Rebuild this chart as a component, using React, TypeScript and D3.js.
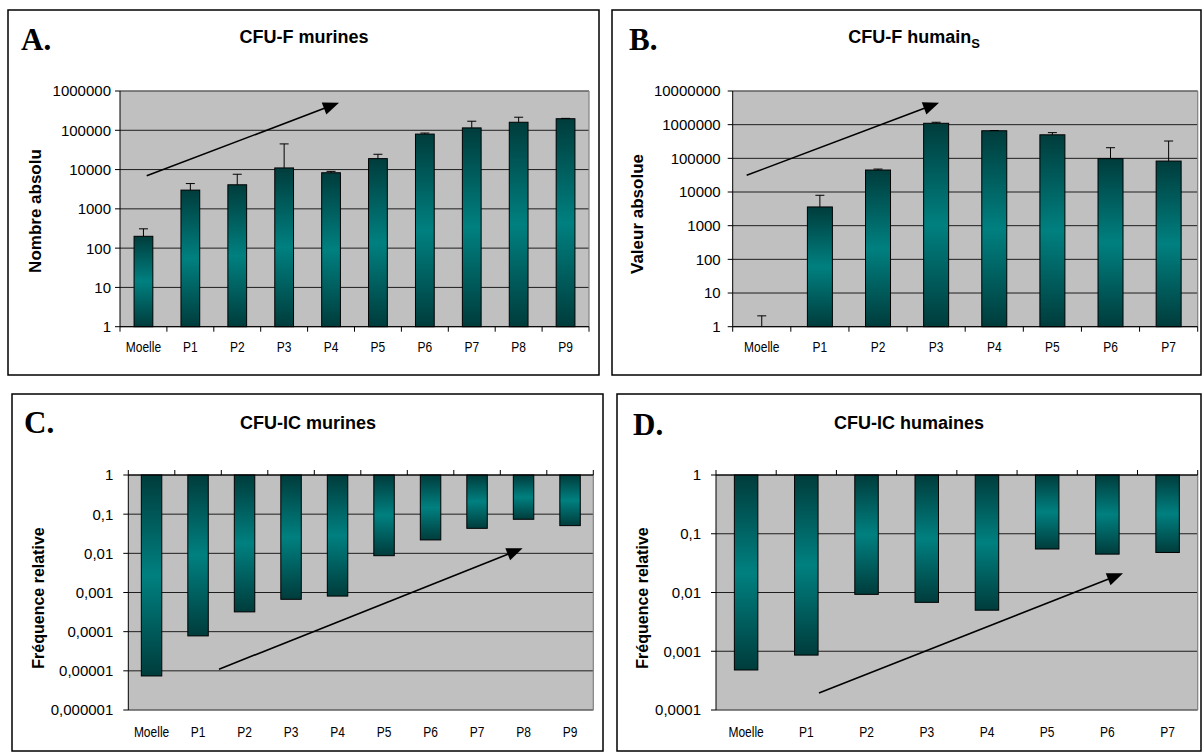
import React from "react";
import * as d3 from "d3";

// ---------- DATA ----------
const catsA = ["Moelle", "P1", "P2", "P3", "P4", "P5", "P6", "P7", "P8", "P9"];
const valuesA = [200, 3000, 4100, 11000, 8300, 19000, 80000, 115000, 160000, 197000];
const errTopA = [310, 4400, 7600, 45000, 9000, 24500, 85000, 170000, 215000, 201000];

const catsB = ["Moelle", "P1", "P2", "P3", "P4", "P5", "P6", "P7"];
const valuesB = [1, 3600, 45000, 1100000, 660000, 500000, 98000, 83000];
const errTopB = [2.1, 8000, 48000, 1180000, 670000, 580000, 207000, 327000];

const catsC = ["Moelle", "P1", "P2", "P3", "P4", "P5", "P6", "P7", "P8", "P9"];
const valuesC = [7.4e-6, 7.8e-5, 3.2e-4, 6.7e-4, 8.1e-4, 8.7e-3, 0.022, 0.0435, 0.074, 0.051];

const catsD = ["Moelle", "P1", "P2", "P3", "P4", "P5", "P6", "P7"];
const valuesD = [4.8e-4, 8.6e-4, 9.3e-3, 6.8e-3, 5.0e-3, 0.055, 0.045, 0.048];

// trend arrows: [category position, value]
const arrowA: [number, number][] = [[0.57, 7000], [4.67, 5e5]];
const arrowB: [number, number][] = [[0.24, 31400], [3.55, 4.5e6]];
const arrowC: [number, number][] = [[1.95, 1.1e-5], [8.48, 0.0134]];
const arrowD: [number, number][] = [[1.71, 1.95e-4], [6.76, 0.0212]];

const SANS = "'Liberation Sans', Arial, Helvetica, sans-serif";
const SERIF = "'Liberation Serif', 'Times New Roman', serif";

type PanelProps = {
  box: [number, number, number, number];
  plot: [number, number, number, number];
  letter: string;
  letterPos: [number, number];
  title: React.ReactNode;
  titlePos: [number, number];
  yTitle: string;
  yTitlePos: [number, number];
  yTitleSize: number;
  cats: string[];
  values: number[];
  errTop?: number[];
  domain: [number, number];
  hanging: boolean;
  barRatio: number;
  labelGap: number;
  xLabelY: number;
  arrow: [number, number][];
  comma: boolean;
};

function fmt(v: number, comma: boolean) {
  const k = Math.round(Math.log10(v));
  if (!comma) return String(Math.round(v));
  const dec = Math.max(0, -k);
  return v.toFixed(dec).replace(".", ",");
}

function Panel(p: PanelProps) {
  const [px0, py0, px1, py1] = p.plot;
  const x = d3.scaleBand<string>().domain(p.cats).range([px0, px1]).padding(0);
  const xPos = d3.scaleLinear().domain([0, p.cats.length]).range([px0, px1]);
  const y = d3.scaleLog().domain(p.domain).range([py1, py0]);
  const kLo = Math.round(Math.log10(p.domain[0]));
  const kHi = Math.round(Math.log10(p.domain[1]));
  const ticks = d3.range(kLo, kHi + 1).map((k) => Math.pow(10, k));
  const base = y(1);
  const bw = x.bandwidth();
  const w = bw * p.barRatio;
  const axisY = p.hanging ? py0 : py1;
  const tickDir = p.hanging ? -5 : 5;

  // arrow geometry
  const ax0 = xPos(p.arrow[0][0]);
  const ay0 = y(p.arrow[0][1]);
  const ax1 = xPos(p.arrow[1][0]);
  const ay1 = y(p.arrow[1][1]);
  const len = Math.hypot(ax1 - ax0, ay1 - ay0);
  const ux = (ax1 - ax0) / len;
  const uy = (ay1 - ay0) / len;
  const hl = 16;
  const hw = 6.5;
  const bx = ax1 - ux * hl;
  const by = ay1 - uy * hl;
  const head = `${ax1},${ay1} ${bx - uy * hw},${by + ux * hw} ${bx + uy * hw},${by - ux * hw}`;

  const [bx0, by0, bx1, by1] = p.box;

  return (
    <g>
      <rect x={bx0} y={by0} width={bx1 - bx0} height={by1 - by0} fill="#fff" stroke="#000" strokeWidth={1.5} />
      <text x={p.letterPos[0]} y={p.letterPos[1]} fontFamily={SERIF} fontWeight="bold" fontSize={31}>
        {p.letter}
      </text>
      <text x={p.titlePos[0]} y={p.titlePos[1]} textAnchor="middle" fontFamily={SANS} fontWeight="bold" fontSize={18}>
        {p.title}
      </text>
      {/* plot area */}
      <rect x={px0} y={py0} width={px1 - px0} height={py1 - py0} fill="#C0C0C0" />
      {ticks.map((t) => (
        <line key={"g" + t} x1={px0} x2={px1} y1={y(t)} y2={y(t)} stroke="#1e1e1e" strokeWidth={1} />
      ))}
      {/* border lines */}
      <line x1={px1} x2={px1} y1={py0} y2={py1} stroke="#808080" strokeWidth={1.2} />
      <line x1={px0} x2={px1} y1={p.hanging ? py1 : py0} y2={p.hanging ? py1 : py0} stroke="#808080" strokeWidth={1.2} />
      {/* bars */}
      {p.values.map((v, i) => {
        const yv = y(v);
        const top = Math.min(yv, base);
        const h = Math.abs(yv - base);
        if (h < 0.5) return null;
        return (
          <rect key={"b" + i} x={(x(p.cats[i]) as number) + (bw - w) / 2} y={top} width={w} height={h}
            fill="url(#barGrad)" stroke="#000" strokeWidth={1} />
        );
      })}
      {/* error bars */}
      {p.errTop &&
        p.errTop.map((e, i) => {
          const cx = (x(p.cats[i]) as number) + bw / 2;
          return (
            <g key={"e" + i} stroke="#000" strokeWidth={1}>
              <line x1={cx} x2={cx} y1={y(p.values[i])} y2={y(e)} />
              <line x1={cx - 4.5} x2={cx + 4.5} y1={y(e)} y2={y(e)} />
            </g>
          );
        })}
      {/* axes */}
      <line x1={px0} x2={px0} y1={py0} y2={py1} stroke="#000" strokeWidth={1} />
      <line x1={px0} x2={px1} y1={axisY} y2={axisY} stroke="#000" strokeWidth={1} />
      {ticks.map((t) => (
        <g key={"t" + t}>
          <line x1={px0 - 5} x2={px0} y1={y(t)} y2={y(t)} stroke="#000" strokeWidth={1} />
          <text x={px0 - p.labelGap} y={y(t)} dy="0.36em" textAnchor="end" fontFamily={SANS} fontSize={15}>
            {fmt(t, p.comma)}
          </text>
        </g>
      ))}
      {d3.range(0, p.cats.length + 1).map((k) => (
        <line key={"xt" + k} x1={xPos(k)} x2={xPos(k)} y1={axisY} y2={axisY + tickDir} stroke="#000" strokeWidth={1} />
      ))}
      {p.cats.map((c) => (
        <text key={"xl" + c} transform={`translate(${(x(c) as number) + bw / 2},${p.xLabelY}) scale(0.8,1)`}
          textAnchor="middle" fontFamily={SANS} fontSize={15}>
          {c}
        </text>
      ))}
      <text transform={`translate(${p.yTitlePos[0]},${p.yTitlePos[1]}) rotate(-90)`} textAnchor="middle"
        dominantBaseline="central" fontFamily={SANS} fontWeight="bold" fontSize={p.yTitleSize}>
        {p.yTitle}
      </text>
      {/* trend arrow */}
      <line x1={ax0} y1={ay0} x2={ax1 - ux * hl * 0.8} y2={ay1 - uy * hl * 0.8} stroke="#000" strokeWidth={1.6} />
      <polygon points={head} fill="#000" />
    </g>
  );
}

export default function App() {
  return (
    <svg width={1203} height={753} style={{ position: "absolute", left: 0, top: 0, background: "#fff" }}>
      <defs>
        <linearGradient id="barGrad" x1="0" y1="0" x2="0" y2="1">
          <stop offset="0%" stopColor="#003c3c" />
          <stop offset="50%" stopColor="#008080" />
          <stop offset="100%" stopColor="#003c3c" />
        </linearGradient>
      </defs>
      <Panel box={[8, 10, 599, 375]} plot={[120, 91, 589, 326.7]} letter="A." letterPos={[21, 50]}
        title="CFU-F murines" titlePos={[304, 43]} yTitle="Nombre absolu" yTitlePos={[35, 211]} yTitleSize={17}
        cats={catsA} values={valuesA} errTop={errTopA} domain={[1, 1e6]} hanging={false} barRatio={0.4}
        labelGap={9} xLabelY={352} arrow={arrowA} comma={false} />
      <Panel box={[612, 10, 1201, 375]} plot={[732.7, 91, 1197.7, 326.7]} letter="B." letterPos={[629, 50]}
        title={<>CFU-F humain<tspan fontSize={13} dy={5}>S</tspan></>} titlePos={[914, 43]}
        yTitle="Valeur absolue" yTitlePos={[637, 214]} yTitleSize={17}
        cats={catsB} values={valuesB} errTop={errTopB} domain={[1, 1e7]} hanging={false} barRatio={0.43}
        labelGap={12} xLabelY={352} arrow={arrowB} comma={false} />
      <Panel box={[12, 394, 603, 751]} plot={[128.3, 475, 593.3, 710]} letter="C." letterPos={[24, 433]}
        title="CFU-IC murines" titlePos={[308, 429]} yTitle="Fréquence relative" yTitlePos={[38, 598]} yTitleSize={16}
        cats={catsC} values={valuesC} domain={[1e-6, 1]} hanging={true} barRatio={0.44}
        labelGap={15} xLabelY={737} arrow={arrowC} comma={true} />
      <Panel box={[617, 394, 1201, 751]} plot={[716, 475, 1197.7, 710]} letter="D." letterPos={[633, 435]}
        title="CFU-IC humaines" titlePos={[909, 429]} yTitle="Fréquence relative" yTitlePos={[642, 598]} yTitleSize={16}
        cats={catsD} values={valuesD} domain={[1e-4, 1]} hanging={true} barRatio={0.39}
        labelGap={15} xLabelY={737} arrow={arrowD} comma={true} />
    </svg>
  );
}
